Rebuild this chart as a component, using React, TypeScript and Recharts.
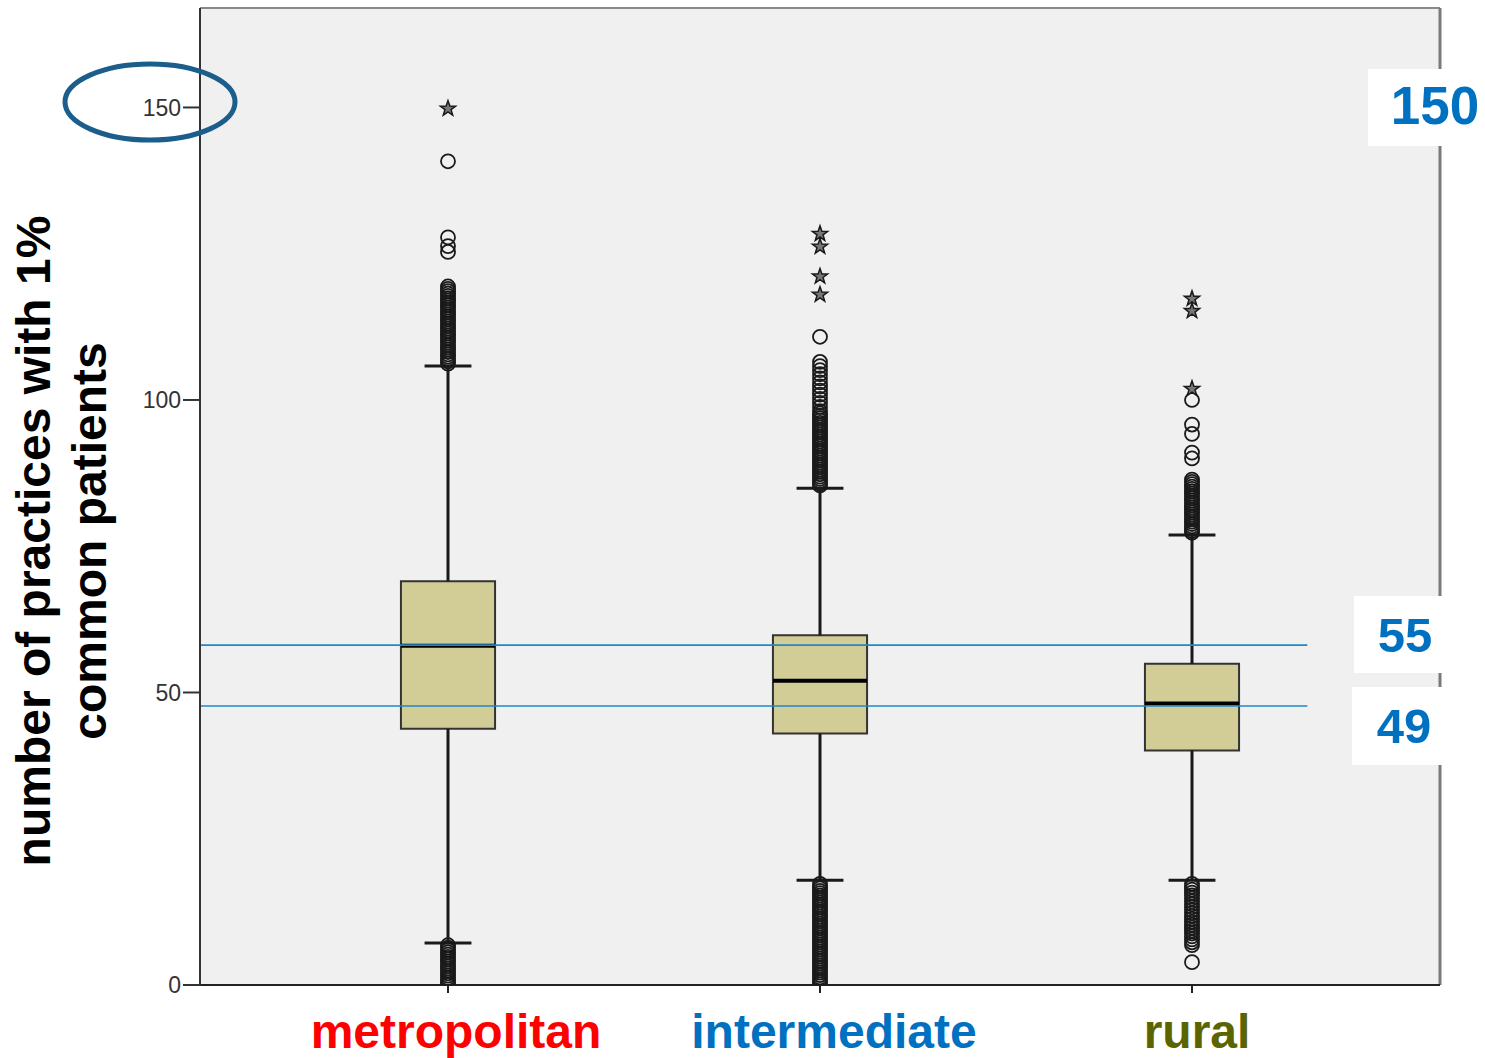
import React from 'react';
import { ComposedChart, XAxis, YAxis, Scatter, ReferenceArea, ReferenceLine, CartesianGrid } from 'recharts';

const categories = ['metropolitan', 'intermediate', 'rural'];
const categoryColors = ['#FF0000', '#0070C0', '#5B6500'];
const categoryPositions = [1, 2, 3];

const whiskerLow = [7.2, 17.9, 17.9];
const q1 = [43.8, 43.0, 40.1];
const median = [58.0, 52.0, 48.1];
const q3 = [69.0, 59.8, 54.9];
const whiskerHigh = [105.8, 84.9, 76.9];

const metroStars = [149.8];
const metroCircles = [
  140.8, 127.8, 126.3, 125.3,
  119.4, 119.0, 118.6, 118.2, 117.8, 117.4, 117.0, 116.6, 116.2, 115.8, 115.4, 115.0, 114.6, 114.2, 113.8, 113.4,
  113.0, 112.6, 112.2, 111.8, 111.4, 111.0, 110.6, 110.2, 109.8, 109.4, 109.0, 108.6, 108.2, 107.8, 107.4, 107.0,
  106.6, 106.2,
  6.8, 6.4, 6.0, 5.6, 5.2, 4.8, 4.4, 4.0, 3.6, 3.2, 2.8, 2.4, 2.0, 1.6, 1.2, 0.8, 0.4, 0.0,
];
const interStars = [128.4, 126.2, 121.1, 118.0];
const interCircles = [
  110.8, 106.5, 105.8, 105.1, 104.4, 103.7, 103.0, 102.3, 101.6, 100.9, 100.2, 99.5, 98.8, 98.1,
  97.7, 97.3, 96.9, 96.5, 96.1, 95.7, 95.3, 94.9, 94.5, 94.1, 93.7, 93.3, 92.9, 92.5, 92.1, 91.7, 91.3, 90.9,
  90.5, 90.1, 89.7, 89.3, 88.9, 88.5, 88.1, 87.7, 87.3, 86.9, 86.5, 86.1, 85.7, 85.4,
  17.3, 16.9, 16.5, 16.1, 15.7, 15.3, 14.9, 14.5, 14.1, 13.7, 13.3, 12.9, 12.5, 12.1, 11.7, 11.3, 10.9, 10.5,
  10.1, 9.7, 9.3, 8.9, 8.5, 8.1, 7.7, 7.3, 6.9, 6.5, 6.1, 5.7, 5.3, 4.9, 4.5, 4.1, 3.7, 3.3, 2.9, 2.5, 2.1, 1.7,
  1.3, 0.9, 0.5, 0.1,
];
const ruralStars = [117.3, 115.2, 101.9];
const ruralCircles = [
  100.0, 95.8, 94.2, 91.0, 90.0,
  86.4, 86.0, 85.6, 85.2, 84.8, 84.4, 84.0, 83.6, 83.2, 82.8, 82.4, 82.0, 81.6, 81.2, 80.8, 80.4, 80.0, 79.6,
  79.2, 78.8, 78.4, 78.0, 77.6, 77.3,
  17.3, 16.8, 16.3, 15.8, 15.3, 14.8, 14.3, 13.8, 13.3, 12.8, 12.3, 11.8, 11.3, 10.8, 10.3, 9.8, 9.3, 8.8,
  8.3, 7.8, 7.3, 6.8, 3.9,
];

const starSeries = [metroStars, interStars, ruralStars];
const circleSeries = [metroCircles, interCircles, ruralCircles];

const referenceValues = [58.1, 47.7];
const referenceEnd = 3.31;
const yTicks = [0, 50, 100, 150];
const yMax = 167;
const xDomain = [1 / 3, 11 / 3];
const annotationLabels = ['150', '55', '49'];
const yTitleLines = ['number of practices with 1%', 'common patients'];

const boxHalf = 0.1265;
const capHalf = 0.063;
const labelShift = [8, 14, 5];

const FONT = "'Liberation Sans', Arial, Helvetica, sans-serif";

const CircleShape = (props: any) => {
  const { cx, cy } = props;
  if (cx == null || cy == null) return <g />;
  return <circle cx={cx} cy={cy} r={7} fill="none" stroke="#1a1a1a" strokeWidth={1.8} />;
};

const StarShape = (props: any) => {
  const { cx, cy } = props;
  if (cx == null || cy == null) return <g />;
  const pts: string[] = [];
  for (let i = 0; i < 10; i++) {
    const r = i % 2 === 0 ? 8 : 3.2;
    const a = -Math.PI / 2 + (i * Math.PI) / 5;
    pts.push(`${cx + r * Math.cos(a)},${cy + r * Math.sin(a)}`);
  }
  return <polygon points={pts.join(' ')} fill="#777" stroke="#1a1a1a" strokeWidth={1.5} />;
};

const XTick = (props: any) => {
  const { x, y, payload } = props;
  const idx = categoryPositions.indexOf(payload.value);
  if (idx < 0) return <g />;
  return (
    <text x={x + labelShift[idx]} y={y + 53} textAnchor="middle" fill={categoryColors[idx]} fontFamily={FONT} fontWeight="bold" fontSize={48}>
      {categories[idx]}
    </text>
  );
};

export default function App() {
  return (
    <div style={{ position: 'absolute', left: 0, top: 0, width: 1485, height: 1058, background: '#fff', overflow: 'hidden' }}>
      <ComposedChart width={1485} height={1058} margin={{ top: 8, right: 45, bottom: 13, left: 140 }}>
        <CartesianGrid horizontal={false} vertical={false} fill="#F0F0F0" />
        <XAxis
          type="number"
          dataKey="x"
          domain={xDomain}
          ticks={categoryPositions}
          height={60}
          tickSize={8}
          tickMargin={2}
          tick={<XTick />}
          axisLine={{ stroke: '#222', strokeWidth: 2 }}
          tickLine={{ stroke: '#222', strokeWidth: 2 }}
          allowDataOverflow
        />
        <YAxis
          type="number"
          dataKey="y"
          domain={[0, yMax]}
          ticks={yTicks}
          width={60}
          tickSize={17}
          tickMargin={2}
          tick={{ fill: '#333', fontSize: 23, fontFamily: FONT }}
          axisLine={{ stroke: '#333', strokeWidth: 2 }}
          tickLine={{ stroke: '#333', strokeWidth: 2 }}
          allowDataOverflow
        />
        <ReferenceLine y={yMax} stroke="#8a8a8a" strokeWidth={2} />
        <ReferenceLine x={xDomain[1]} stroke="#7a7a7a" strokeWidth={3} />
        {categoryPositions.map((p, i) => (
          <ReferenceLine key={`wu${i}`} segment={[{ x: p, y: q3[i] }, { x: p, y: whiskerHigh[i] }]} stroke="#1a1a1a" strokeWidth={3} />
        ))}
        {categoryPositions.map((p, i) => (
          <ReferenceLine key={`wl${i}`} segment={[{ x: p, y: whiskerLow[i] }, { x: p, y: q1[i] }]} stroke="#1a1a1a" strokeWidth={3} />
        ))}
        {categoryPositions.map((p, i) => (
          <ReferenceLine key={`cu${i}`} segment={[{ x: p - capHalf, y: whiskerHigh[i] }, { x: p + capHalf, y: whiskerHigh[i] }]} stroke="#1a1a1a" strokeWidth={3} />
        ))}
        {categoryPositions.map((p, i) => (
          <ReferenceLine key={`cl${i}`} segment={[{ x: p - capHalf, y: whiskerLow[i] }, { x: p + capHalf, y: whiskerLow[i] }]} stroke="#1a1a1a" strokeWidth={3} />
        ))}
        {categoryPositions.map((p, i) => (
          <ReferenceArea key={`b${i}`} x1={p - boxHalf} x2={p + boxHalf} y1={q1[i]} y2={q3[i]} fill="#D2CD97" fillOpacity={1} stroke="#333" strokeWidth={2} />
        ))}
        {categoryPositions.map((p, i) => (
          <ReferenceLine key={`m${i}`} segment={[{ x: p - boxHalf, y: median[i] }, { x: p + boxHalf, y: median[i] }]} stroke="#000" strokeWidth={4} />
        ))}
        {referenceValues.map((v, i) => (
          <ReferenceLine key={`r${i}`} segment={[{ x: xDomain[0], y: v }, { x: referenceEnd, y: v }]} stroke="#1E88C8" strokeWidth={1.6} />
        ))}
        {categoryPositions.map((p, i) => (
          <Scatter key={`c${i}`} data={circleSeries[i].map((v) => ({ x: p, y: v }))} shape={<CircleShape />} isAnimationActive={false} />
        ))}
        {categoryPositions.map((p, i) => (
          <Scatter key={`s${i}`} data={starSeries[i].map((v) => ({ x: p, y: v }))} shape={<StarShape />} isAnimationActive={false} />
        ))}
      </ComposedChart>
      <svg width={1485} height={1058} style={{ position: 'absolute', left: 0, top: 0, pointerEvents: 'none' }}>
        <ellipse cx={150} cy={102} rx={85} ry={38} fill="none" stroke="#1B5E8C" strokeWidth={5} />
        <rect x={1368} y={69} width={117} height={77} fill="#fff" />
        <rect x={1354} y={596} width={131} height={77} fill="#fff" />
        <rect x={1352} y={687} width={133} height={78} fill="#fff" />
        <text x={1435} y={124} textAnchor="middle" fill="#0070C0" fontFamily={FONT} fontWeight="bold" fontSize={53}>{annotationLabels[0]}</text>
        <text x={1405} y={652} textAnchor="middle" fill="#0070C0" fontFamily={FONT} fontWeight="bold" fontSize={49}>{annotationLabels[1]}</text>
        <text x={1404} y={743} textAnchor="middle" fill="#0070C0" fontFamily={FONT} fontWeight="bold" fontSize={49}>{annotationLabels[2]}</text>
        <g transform="rotate(-90)">
          <text x={-541} y={50} textAnchor="middle" fill="#000" fontFamily={FONT} fontWeight="bold" fontSize={48}>{yTitleLines[0]}</text>
          <text x={-541} y={106} textAnchor="middle" fill="#000" fontFamily={FONT} fontWeight="bold" fontSize={48}>{yTitleLines[1]}</text>
        </g>
      </svg>
    </div>
  );
}
